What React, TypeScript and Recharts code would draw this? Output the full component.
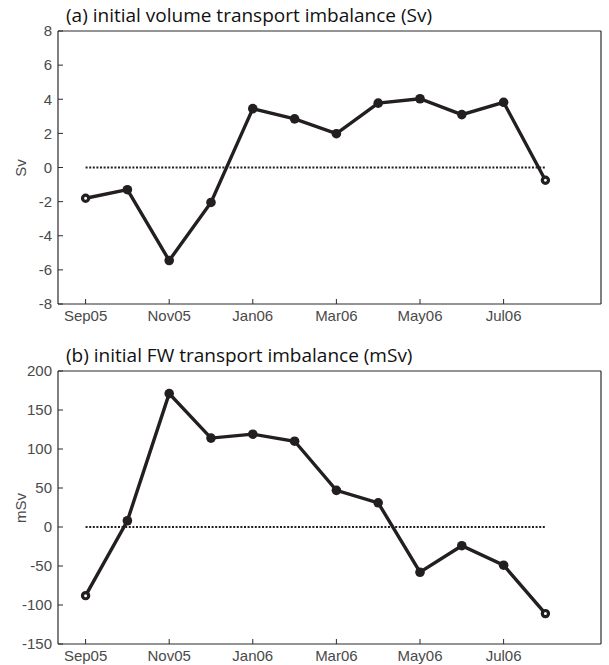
import React from 'react';
import { LineChart, Line, XAxis, YAxis, ReferenceLine } from 'recharts';

const months = ['Sep05', 'Oct05', 'Nov05', 'Dec05', 'Jan06', 'Feb06', 'Mar06', 'Apr06', 'May06', 'Jun06', 'Jul06', 'Aug06'];
const volumeSv = [-1.8, -1.3, -5.45, -2.05, 3.45, 2.85, 1.98, 3.77, 4.03, 3.1, 3.82, -0.75];
const fwMSv = [-88, 8, 171, 114, 119, 110, 47, 31, -58, -24, -49, -111];
const xTickIdx = [0, 2, 4, 6, 8, 10];
const volTicks = [-8, -6, -4, -2, 0, 2, 4, 6, 8];
const fwTicks = [-150, -100, -50, 0, 50, 100, 150, 200];
const xDomain: [number, number] = [-0.66, 12.33];

const volData = months.map((m, i) => ({ idx: i, month: m, value: volumeSv[i] }));
const fwData = months.map((m, i) => ({ idx: i, month: m, value: fwMSv[i] }));

const LINE = '#231f20';
const AX = '#2b2b2b';
const TXT = '#4a4a4a';
const TICK_FONT = { fill: TXT, fontSize: 15, fontFamily: '"Liberation Sans", Arial, sans-serif' };

const makeDot = (n: number) => (props: any) => {
  const { cx, cy, index } = props;
  if (cx == null || cy == null) return <g key={`e${index}`} />;
  if (index === 0 || index === n - 1) {
    return <circle key={`d${index}`} cx={cx} cy={cy} r={3.1} fill="#fff" stroke={LINE} strokeWidth={3.2} />;
  }
  return <circle key={`d${index}`} cx={cx} cy={cy} r={4.8} fill={LINE} stroke="none" />;
};

type PanelProps = {
  data: { idx: number; month: string; value: number }[];
  ticks: number[];
  title: string;
  ylabel: string;
  top: number;
  height: number;
};

function Panel({ data, ticks, title, ylabel, top, height }: PanelProps) {
  const domain: [number, number] = [ticks[0], ticks[ticks.length - 1]];
  const plotTop = 31;
  const plotBottom = 304;
  return (
    <div style={{ position: 'absolute', left: 0, top, width: 609, height }}>
      <LineChart
        width={609}
        height={height}
        data={data}
        margin={{ top: plotTop - 1, right: 7, bottom: height - plotBottom - 1, left: 57 }}
      >
        <XAxis
          xAxisId="b"
          type="number"
          dataKey="idx"
          domain={xDomain}
          allowDataOverflow
          ticks={xTickIdx}
          interval={0}
          tickFormatter={(v: number) => months[v]}
          height={1}
          tickSize={-5}
          tickMargin={11}
          axisLine={{ stroke: AX, strokeWidth: 1.2 }}
          tickLine={{ stroke: AX }}
          tick={TICK_FONT}
        />
        <XAxis
          xAxisId="t"
          orientation="top"
          type="number"
          dataKey="idx"
          domain={xDomain}
          allowDataOverflow
          ticks={xTickIdx}
          interval={0}
          height={1}
          tickSize={-5}
          axisLine={{ stroke: AX, strokeWidth: 1.2 }}
          tickLine={{ stroke: AX }}
          tick={false}
        />
        <YAxis
          yAxisId="l"
          type="number"
          domain={domain}
          ticks={ticks}
          interval={0}
          width={1}
          tickSize={-5}
          tickMargin={11}
          axisLine={{ stroke: AX, strokeWidth: 1.2 }}
          tickLine={{ stroke: AX }}
          tick={TICK_FONT}
        />
        <YAxis
          yAxisId="r"
          orientation="right"
          type="number"
          domain={domain}
          ticks={ticks}
          interval={0}
          width={1}
          tickSize={-5}
          axisLine={{ stroke: AX, strokeWidth: 1.2 }}
          tickLine={{ stroke: AX }}
          tick={false}
        />
        <ReferenceLine
          xAxisId="b"
          yAxisId="l"
          segment={[{ x: 0, y: 0 }, { x: data.length - 1, y: 0 }]}
          stroke={LINE}
          strokeWidth={2.2}
          strokeDasharray="2 1.6"
        />
        <Line
          xAxisId="b"
          yAxisId="l"
          type="linear"
          dataKey="value"
          stroke={LINE}
          strokeWidth={3.4}
          dot={makeDot(data.length)}
          activeDot={false}
          isAnimationActive={false}
        />
      </LineChart>
      <div
        style={{
          position: 'absolute',
          left: 66,
          top: 4,
          fontFamily: '"Open Sans", "Noto Sans", sans-serif',
          fontSize: 19,
          lineHeight: '22px',
          color: '#111',
          whiteSpace: 'nowrap',
        }}
      >
        {title}
      </div>
      <div
        style={{
          position: 'absolute',
          left: 20,
          top: (plotTop + plotBottom) / 2,
          transform: 'translate(-50%, -50%) rotate(-90deg)',
          fontFamily: '"Liberation Sans", Arial, sans-serif',
          fontSize: 15,
          color: TXT,
          whiteSpace: 'nowrap',
        }}
      >
        {ylabel}
      </div>
    </div>
  );
}

export default function App() {
  return (
    <div
      style={{
        position: 'absolute',
        left: 0,
        top: 0,
        width: 609,
        height: 665,
        overflow: 'hidden',
        background: '#fff',
      }}
    >
      <Panel data={volData} ticks={volTicks} title="(a) initial volume transport imbalance (Sv)" ylabel="Sv" top={0} height={330} />
      <Panel data={fwData} ticks={fwTicks} title="(b) initial FW transport imbalance (mSv)" ylabel="mSv" top={340} height={325} />
    </div>
  );
}
